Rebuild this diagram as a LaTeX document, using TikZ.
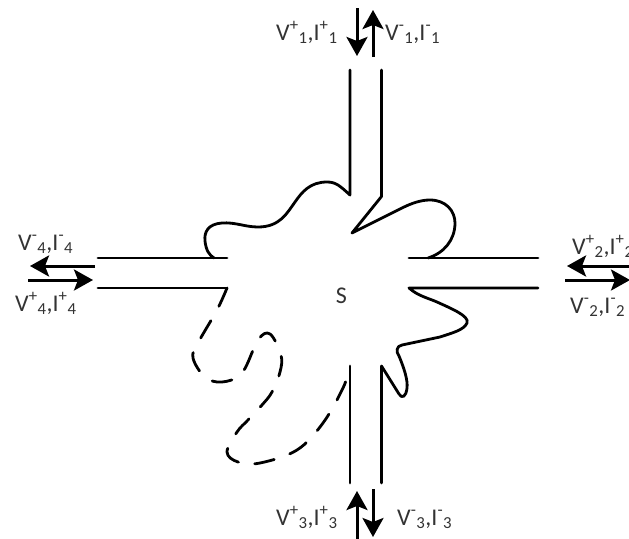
\documentclass[tikz,border=0pt]{standalone}
\usepackage{fontspec}
\setmainfont{Carlito}
\usetikzlibrary{arrows.meta}
\newcommand{\VI}[2]{V\textsuperscript{#1}\textsubscript{#2},I\textsuperscript{#1}\textsubscript{#2}}
\tikzset{wire/.style={line width=2.8pt,line cap=round,line join=round},
  flow/.style={line width=3pt,-{Stealth[length=19pt,width=21pt,inset=4pt]}},
  portlabel/.style={font=\fontsize{24}{26}\selectfont,text=black!80,inner sep=0pt}}
\begin{document}
\begin{tikzpicture}[x=1pt,y=-1pt]
\useasboundingbox (0,0) rectangle (629,538);
% port lines and solid outline
\draw[wire] (98,258) -- (227,258);
\draw[wire] (98,288) -- (227,288);
\draw[wire] (538,258) -- (409,258);
\draw[wire] (350,483) -- (350,366);
\draw[wire] (350,70) -- (350,195) .. controls (340,186) and (336,182) .. (327,182)
  .. controls (310,182) and (302,192) .. (295,202) .. controls (287,213) and (280,227) .. (258,227)
  .. controls (245,227) and (235,222) .. (222,223) .. controls (208,224) and (204,232) .. (205,241)
  .. controls (206,250) and (209,255) .. (214,258);
\draw[wire] (381.5,70) -- (381.5,196.5) -- (352,233) -- (402,208)
  .. controls (412,203) and (421,200) .. (430,200) .. controls (446,200) and (455,211) .. (455,223)
  .. controls (455,240) and (444,253) .. (428,258);
\draw[wire] (538,288) -- (409,288) .. controls (418,296) and (428,298) .. (437,302)
  .. controls (450,308) and (470,316) .. (467,323) .. controls (464,330) and (452,333) .. (440,337)
  -- (402,345) .. controls (396,346) and (396,352) .. (399,356)
  .. controls (404,368) and (408,380) .. (407,388) .. controls (406,397) and (402,399) .. (399,394)
  -- (381.5,366) -- (381.5,483);
% dashed part of the outline
\draw[wire,dash pattern=on 20pt off 16.5pt] plot[smooth,tension=0.6] coordinates {(227,288) (217,310) (198,343) (193,358) (205,377)
  (222,382) (242,373) (258,340) (270,334) (281,355) (280,372) (272,392) (262,405)
  (248,420) (237,432) (227,452) (238,462) (260,463) (297,450) (323,423) (343,388) (350,367)};
% flow arrows
\coordinate (top in) at (357,8);
\coordinate (top in tip) at (357,56);
\coordinate (top out) at (373,57);
\coordinate (top out tip) at (373,10);
\coordinate (left out) at (95,266);
\coordinate (left out tip) at (30,266);
\coordinate (left in) at (28,280);
\coordinate (left in tip) at (93,280);
\coordinate (right in) at (640,266);
\coordinate (right in tip) at (567,266);
\coordinate (right out) at (565,280);
\coordinate (right out tip) at (630,280);
\coordinate (bottom in) at (357,540);
\coordinate (bottom in tip) at (357,491);
\coordinate (bottom out) at (373,489);
\coordinate (bottom out tip) at (373,537);
\foreach \a/\b in {top in/top in tip,top out/top out tip,left out/left out tip,left in/left in tip,
  right in/right in tip,right out/right out tip,bottom in/bottom in tip,bottom out/bottom out tip}
  \draw[flow] (\a) -- (\b);
% labels
\node[portlabel] (s) at (341.5,296) {S};
\node[portlabel,anchor=base west] (p1) at (276,40) {\VI{+}{1}};
\node[portlabel,anchor=base west] (m1) at (385,40) {\VI{-}{1}};
\node[portlabel,anchor=base west] (m4) at (18,250) {\VI{-}{4}};
\node[portlabel,anchor=base west] (p4) at (15,311) {\VI{+}{4}};
\node[portlabel,anchor=base west] (p2) at (572,254) {\VI{+}{2}};
\node[portlabel,anchor=base west] (m2) at (570,313) {\VI{-}{2}};
\node[portlabel,anchor=base west] (p3) at (276,525) {\VI{+}{3}};
\node[portlabel,anchor=base west] (m3) at (397,525) {\VI{-}{3}};
\end{tikzpicture}
\end{document}
